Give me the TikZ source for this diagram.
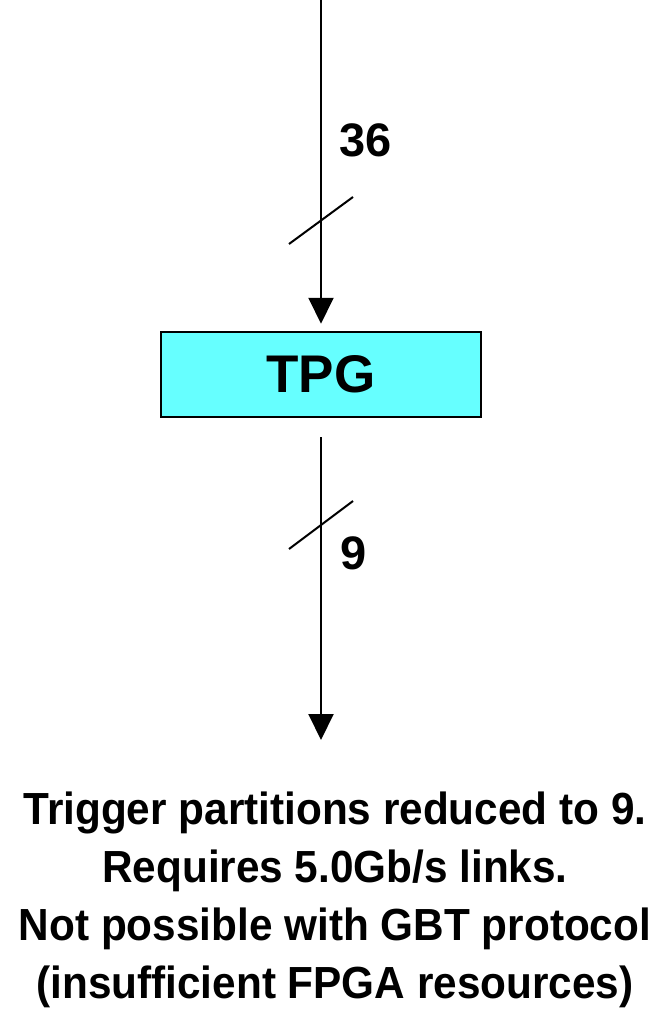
\documentclass[tikz,border=0pt]{standalone}
\usepackage{fontspec}
\setmainfont{Liberation Sans}
\newfontfamily\notefont[FakeStretch=0.94]{Liberation Sans}
\usetikzlibrary{arrows.meta}
\definecolor{tpgcyan}{RGB}{102,255,255}
\begin{document}
\begin{tikzpicture}[x=1pt,y=-1pt,
  flow/.style={line width=2pt,-{Triangle[length=26pt,width=25pt]}},
  bus/.style={line width=2pt},
  blockbox/.style={draw=black,line width=2.5pt,fill=tpgcyan,minimum width=320pt,minimum height=85pt,inner sep=0pt,font=\fontsize{53}{60}\selectfont\bfseries},
  count/.style={inner sep=0pt,font=\fontsize{47}{52}\selectfont\bfseries},
  note/.style={inner sep=0pt,anchor=base,font=\notefont\fontsize{45}{58}\selectfont\bfseries}]
\useasboundingbox (0,0) rectangle (669,1016);
\node[blockbox] (tpg) at (321,374.5) {TPG};
\coordinate (src) at (321,0);
\coordinate (dst) at (321,740);
\draw[flow] (src) -- ([yshift=7pt]tpg.north);
\draw[flow] ([yshift=-19pt]tpg.south) -- (dst);
\coordinate (s1a) at (289,244);
\coordinate (s1b) at (353,197);
\coordinate (s2a) at (289,549);
\coordinate (s2b) at (353,501);
\draw[bus] (s1a) -- (s1b);
\draw[bus] (s2a) -- (s2b);
\node[count] (n36) at (366,140) {36};
\node[count] (n9) at (354,553.5) {9};
\node[note] (l1) at (335,824) {Trigger partitions reduced to 9.};
\node[note] (l2) at (335,882) {Requires 5.0Gb/s links.};
\node[note] (l3) at (335,940) {Not possible with GBT protocol};
\node[note] (l4) at (335,998) {(insufficient FPGA resources)};
\end{tikzpicture}
\end{document}
